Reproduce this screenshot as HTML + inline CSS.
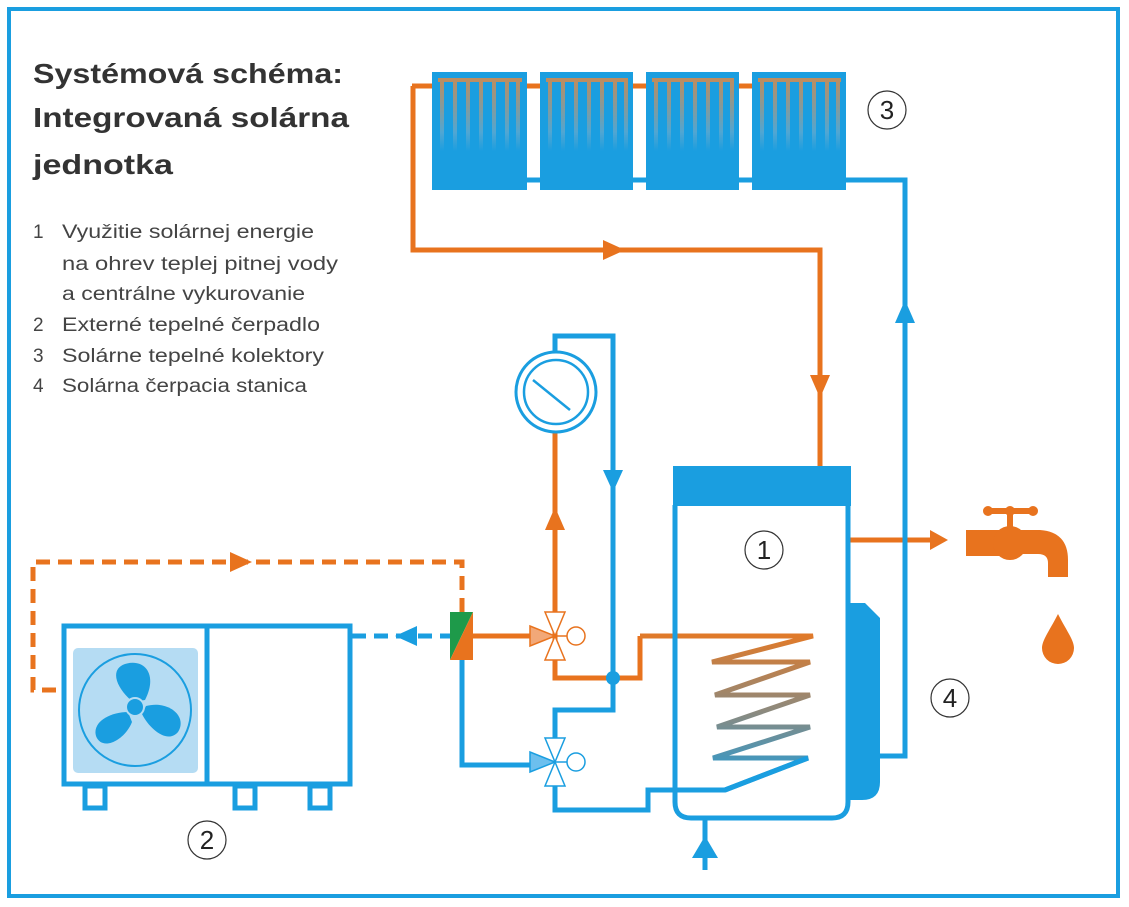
<!DOCTYPE html>
<html><head><meta charset="utf-8"><style>html,body{margin:0;padding:0;background:#fff}svg{display:block}</style></head>
<body>
<svg width="1129" height="907" viewBox="0 0 1129 907" xmlns="http://www.w3.org/2000/svg" font-family="Liberation Sans, sans-serif">
<defs>
<linearGradient id="col" x1="0" y1="0" x2="0" y2="1">
<stop offset="0" stop-color="#d98a4a"/><stop offset="0.55" stop-color="#5aa8d0"/><stop offset="0.75" stop-color="#1a9ee0"/>
</linearGradient>
<linearGradient id="coil" x1="0" y1="636" x2="0" y2="790" gradientUnits="userSpaceOnUse">
<stop offset="0" stop-color="#e07a2a"/><stop offset="0.5" stop-color="#8a8a80"/><stop offset="1" stop-color="#1a9ee0"/>
</linearGradient>
</defs>
<rect x="9" y="9" width="1109" height="887" fill="none" stroke="#1a9ee0" stroke-width="4"/>
<g fill="#333" font-weight="bold" font-size="28">
<text x="33" y="83" textLength="310" lengthAdjust="spacingAndGlyphs">Systémová schéma:</text>
<text x="33" y="127" textLength="316" lengthAdjust="spacingAndGlyphs">Integrovaná solárna</text>
<text x="33" y="174" textLength="140" lengthAdjust="spacingAndGlyphs">jednotka</text>
</g>
<g fill="#444" font-size="19">
<text x="33" y="238">1</text><text x="62" y="238" textLength="252" lengthAdjust="spacingAndGlyphs">Využitie solárnej energie</text>
<text x="62" y="270" textLength="276" lengthAdjust="spacingAndGlyphs">na ohrev teplej pitnej vody</text>
<text x="62" y="300" textLength="243" lengthAdjust="spacingAndGlyphs">a centrálne vykurovanie</text>
<text x="33" y="331">2</text><text x="62" y="331" textLength="258" lengthAdjust="spacingAndGlyphs">Externé tepelné čerpadlo</text>
<text x="33" y="362">3</text><text x="62" y="362" textLength="262" lengthAdjust="spacingAndGlyphs">Solárne tepelné kolektory</text>
<text x="33" y="392">4</text><text x="62" y="392" textLength="245" lengthAdjust="spacingAndGlyphs">Solárna čerpacia stanica</text>
</g>
<g>
<rect x="432" y="72" width="95" height="118" fill="#1a9ee0"/>
<rect x="540" y="72" width="93" height="118" fill="#1a9ee0"/>
<rect x="646" y="72" width="93" height="118" fill="#1a9ee0"/>
<rect x="752" y="72" width="94" height="118" fill="#1a9ee0"/>
<g fill="none" stroke="url(#col)" stroke-width="4" opacity="0.85">
<path d="M438 80 H522 M442 80 V175 M455 80 V175 M468 80 V175 M481 80 V175 M494 80 V175 M507 80 V175 M518 80 V175"/>
<path d="M546 80 H628 M550 80 V175 M563 80 V175 M576 80 V175 M589 80 V175 M602 80 V175 M615 80 V175 M626 80 V175"/>
<path d="M652 80 H734 M656 80 V175 M669 80 V175 M682 80 V175 M695 80 V175 M708 80 V175 M721 80 V175 M732 80 V175"/>
<path d="M758 80 H841 M762 80 V175 M775 80 V175 M788 80 V175 M801 80 V175 M814 80 V175 M827 80 V175 M838 80 V175"/>
</g>
</g>
<g fill="none" stroke="#e8731e" stroke-width="5">
<path d="M412 86 H432 M527 86 H540 M633 86 H646 M739 86 H752"/>
<path d="M413 86 V250 H820 V466"/>
<path d="M555 655 V432 M555 612 V620"/>
<path d="M473 636 H535"/>
<path d="M640 636 V678 H555 V652"/>
<path d="M850 540 H930"/>
<path d="M462 612 V562 H33 V690 H62" stroke-dasharray="14 8"/>
</g>
<path d="M640 636 H813 L712 662 H810 L715 695 H810 L717 727 H810 L713 758 H808 L725 790" fill="none" stroke="url(#coil)" stroke-width="5" stroke-linejoin="miter"/>
<g fill="#e8731e">
<polygon points="603,240 625,250 603,260"/>
<polygon points="810,375 830,375 820,398"/>
<polygon points="545,530 565,530 555,507"/>
<polygon points="930,530 948,540 930,550"/>
<polygon points="230,552 252,562 230,572"/>
</g>
<g fill="none" stroke="#1a9ee0" stroke-width="5">
<path d="M527 180 H540 M633 180 H646 M739 180 H752 M846 180 H905 V756 H880"/>
<path d="M555 352 V336 H613 V710 H555 V742"/>
<path d="M462 660 V765 H535"/>
<path d="M555 782 V810 H648 V790 H725 L808 758"/>
<path d="M705 820 V870"/>
<path d="M352 636 H450" stroke-dasharray="14 8"/>
<path d="M675 505 V802 Q675 818 691 818 H832 Q848 818 848 802 V505"/>
</g>
<rect x="673" y="466" width="178" height="40" fill="#1a9ee0"/>
<path d="M848 603 H865 L880 618 V782 Q880 800 862 800 H848 Z" fill="#1a9ee0"/>
<g fill="#1a9ee0">
<polygon points="895,323 915,323 905,300"/>
<polygon points="603,470 623,470 613,492"/>
<polygon points="417,626 417,646 395,636"/>
<polygon points="692,858 718,858 705,836"/>
<circle cx="613" cy="678" r="7"/>
</g>
<circle cx="556" cy="392" r="40" fill="#fff" stroke="#1a9ee0" stroke-width="3"/>
<circle cx="556" cy="392" r="32" fill="none" stroke="#1a9ee0" stroke-width="2.5"/>
<line x1="533" y1="380" x2="570" y2="410" stroke="#1a9ee0" stroke-width="2.5"/>
<polygon points="450,612 473,612 450,660" fill="#1e9a4a"/>
<polygon points="473,612 473,660 450,660" fill="#e8731e"/>
<g stroke="#e8731e" stroke-width="1.5">
<polygon points="530,626 530,646 555,636" fill="#f2a878"/>
<polygon points="545,612 565,612 555,636" fill="#fff"/>
<polygon points="545,660 565,660 555,636" fill="#fff"/>
<line x1="555" y1="636" x2="567" y2="636"/>
<circle cx="576" cy="636" r="9" fill="#fff"/>
</g>
<g stroke="#1a9ee0" stroke-width="1.5">
<polygon points="530,752 530,772 555,762" fill="#6cbfee"/>
<polygon points="545,738 565,738 555,762" fill="#fff"/>
<polygon points="545,786 565,786 555,762" fill="#fff"/>
<line x1="555" y1="762" x2="567" y2="762"/>
<circle cx="576" cy="762" r="9" fill="#fff"/>
</g>
<rect x="64" y="626" width="286" height="158" fill="#fff" stroke="#1a9ee0" stroke-width="5"/>
<line x1="207" y1="626" x2="207" y2="784" stroke="#1a9ee0" stroke-width="5"/>
<rect x="73" y="648" width="125" height="125" rx="5" fill="#b5dcf3"/>
<circle cx="135" cy="710" r="56" fill="none" stroke="#1a9ee0" stroke-width="2"/>
<g fill="#1a9ee0">
<path d="M133 702 C118 690 108 670 125 664 C145 658 158 675 145 700 Z"/>
<path d="M128 712 C110 712 92 722 96 736 C102 752 125 740 132 722 Z"/>
<path d="M142 714 C150 730 168 744 178 732 C188 716 168 700 146 706 Z"/>
<circle cx="135" cy="707" r="9" stroke="#b5dcf3" stroke-width="2"/>
</g>
<g fill="none" stroke="#1a9ee0" stroke-width="5">
<rect x="85" y="786" width="20" height="22"/>
<rect x="235" y="786" width="20" height="22"/>
<rect x="310" y="786" width="20" height="22"/>
</g>
<g fill="#e8731e">
<rect x="966" y="530" width="40" height="26"/>
<circle cx="1010" cy="543" r="17"/>
<path d="M1005 530 H1040 Q1068 532 1068 560 V577 H1048 V563 Q1048 554 1038 554 H1005 Z"/>
<rect x="1007" y="512" width="6" height="18"/>
<rect x="987" y="508" width="46" height="6" rx="3"/>
<circle cx="988" cy="511" r="5"/><circle cx="1010" cy="511" r="5"/><circle cx="1033" cy="511" r="5"/>
<path d="M1058 614 C1050 630 1042 640 1042 648 A16 16 0 0 0 1074 648 C1074 640 1066 630 1058 614 Z"/>
</g>
<g fill="#fff" stroke="#333" stroke-width="1.2">
<circle cx="887" cy="110" r="19"/><circle cx="764" cy="550" r="19"/>
<circle cx="207" cy="840" r="19"/><circle cx="950" cy="698" r="19"/>
</g>
<g fill="#222" font-size="26" text-anchor="middle">
<text x="887" y="119">3</text><text x="764" y="559">1</text>
<text x="207" y="849">2</text><text x="950" y="707">4</text>
</g>
</svg>
</body></html>
